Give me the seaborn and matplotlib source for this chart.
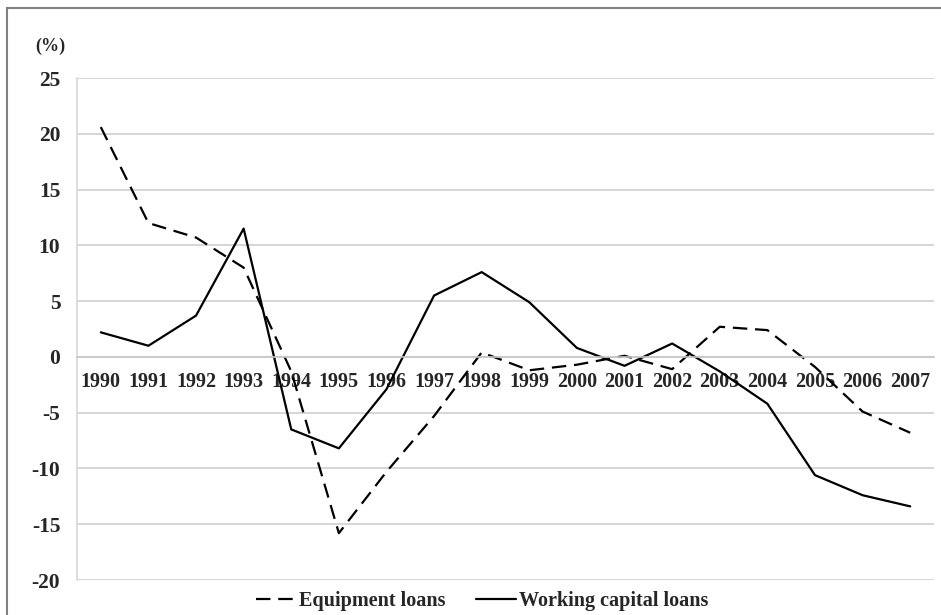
#!/usr/bin/env python3

import matplotlib

matplotlib.use("Agg")
import matplotlib.pyplot as plt
import numpy as np
import pandas as pd
import seaborn as sns
from matplotlib.lines import Line2D
from matplotlib.patches import Rectangle

years = [str(y) for y in range(1990, 2008)]
equipment_loans = [20.6, 12.0, 10.7, 8.0, -1.3, -15.8, -10.3, -5.3, 0.4, -1.2,
                   -0.7, 0.1, -1.1, 2.7, 2.4, -0.9, -4.9, -6.8]
working_capital_loans = [2.2, 1.0, 3.7, 11.5, -6.5, -8.2, -2.9, 5.5, 7.6, 4.9,
                         0.8, -0.8, 1.2, -1.3, -4.2, -10.6, -12.4, -13.4]
y_ticks = [-20, -15, -10, -5, 0, 5, 10, 15, 20, 25]

sns.set_theme(style="white")
plt.rcParams["font.family"] = ["Liberation Serif", "DejaVu Serif"]
plt.rcParams["font.weight"] = "bold"

df = pd.DataFrame({
    "pos": np.arange(len(years)),
    "Equipment loans": equipment_loans,
    "Working capital loans": working_capital_loans,
})

fig = plt.figure(figsize=(9.41, 6.15), dpi=100)
ax = fig.add_axes([77 / 941, 1 - 580 / 615, (934 - 77) / 941, (580 - 78) / 615])

dash = (6.5, 3.5)
sns.lineplot(data=df, x="pos", y="Equipment loans", ax=ax, color="black",
             linewidth=1.6)
ax.lines[-1].set_dashes(dash)
sns.lineplot(data=df, x="pos", y="Working capital loans", ax=ax, color="black",
             linewidth=1.6)

ax.set_xlim(-0.5, len(years) - 0.5)
ax.set_ylim(-20, 25)
ax.set_yticks(y_ticks)
ax.set_yticklabels([str(t) for t in y_ticks])
ax.yaxis.grid(True, color="#d0d0d0", linewidth=1.2)
ax.set_axisbelow(True)

ax.set_xticks(np.arange(len(years)))
ax.set_xticklabels(years)
ax.set_xticks(np.arange(len(years) + 1) - 0.5, minor=True)
ax.tick_params(axis="x", which="major", length=0, pad=11, labelsize=14.5)
ax.tick_params(axis="x", which="minor", length=5, color="#c8c8c8", width=1)
ax.tick_params(axis="y", length=6, color="#d0d0d0", width=1, pad=6,
               labelsize=15.5)
for lab in ax.get_xticklabels() + ax.get_yticklabels():
    lab.set_fontweight("bold")
ax.set_xlabel("")
ax.set_ylabel("")

for side in ["top", "right"]:
    ax.spines[side].set_visible(False)
ax.spines["bottom"].set_position(("data", 0))
ax.spines["bottom"].set_color("#c8c8c8")
ax.spines["bottom"].set_linewidth(1.2)
ax.spines["left"].set_color("#d8d8d8")
ax.spines["left"].set_linewidth(1.2)

fig.text(35 / 941, 1 - 46 / 615, "(%)", fontsize=13, fontweight="bold",
         ha="left", va="center")

handles = [
    Line2D([], [], color="black", linewidth=1.6, dashes=dash),
    Line2D([], [], color="black", linewidth=1.6),
]
fig.legend(handles, ["Equipment loans", "Working capital loans"],
           loc="center", bbox_to_anchor=(482 / 941, 1 - 601 / 615), ncol=2,
           frameon=False, handlelength=2.0, handletextpad=0.15,
           columnspacing=1.5, prop={"weight": "bold", "size": 14.5})

fig.patches.append(Rectangle((7 / 941, -0.01), 1.0, 1 - 8 / 615 + 0.01,
                             transform=fig.transFigure, fill=False,
                             edgecolor="#808080", linewidth=1.5))

fig.savefig("out.png", dpi=100)
